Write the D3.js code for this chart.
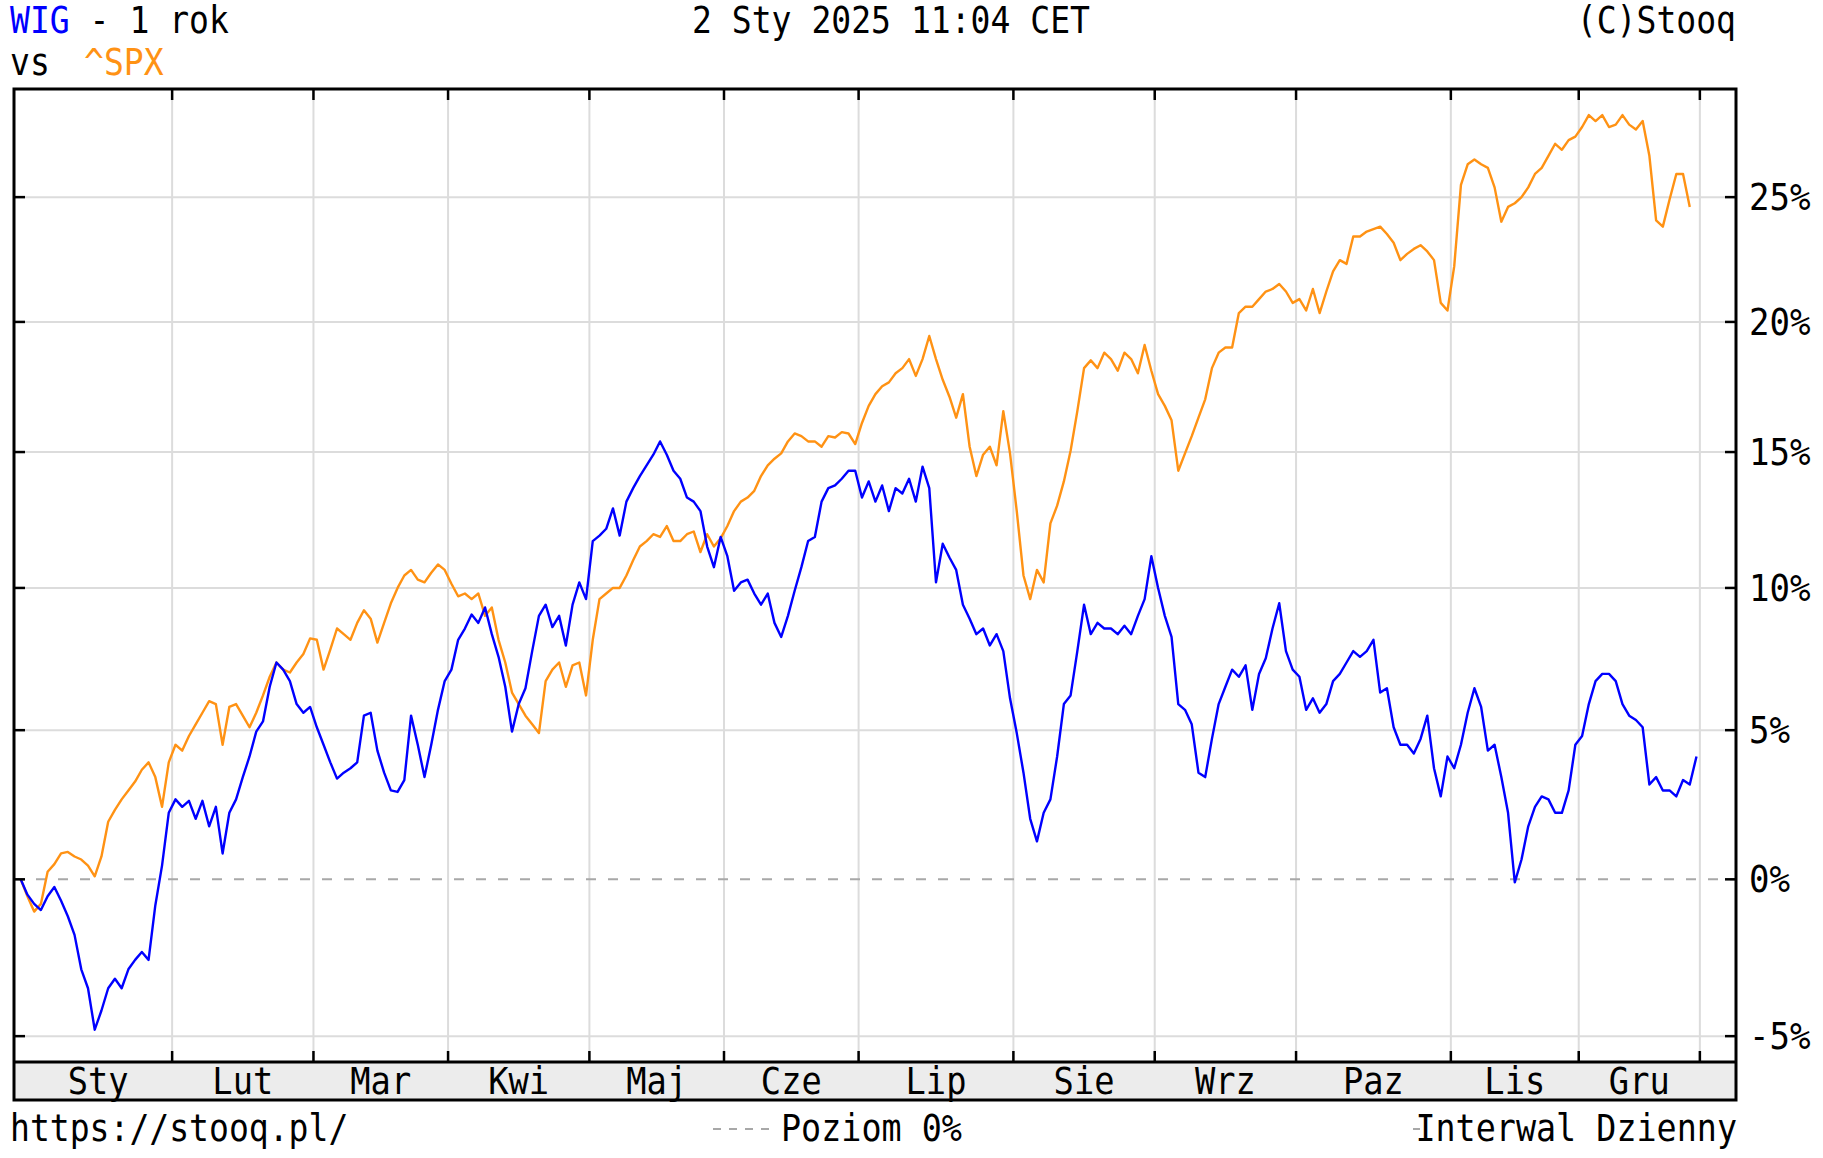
<!DOCTYPE html>
<html><head><meta charset="utf-8">
<script src="https://cdn.jsdelivr.net/npm/d3@7"></script>
<style>html,body{margin:0;padding:0;background:#fff;} svg{display:block;}</style>
</head><body>
<script>
// ---- DATA (percent change vs. last close of 2023; index 0 = base day) ----
const wigValues = [
  // Sty
  0, -0.5, -0.8, -1.0, -0.55, -0.25, -0.7, -1.2, -1.8, -2.9, -3.5, -4.8, -4.2, -3.5, -3.2, -3.5, -2.9, -2.6, -2.35, -2.6, -0.85, 0.45,
  // Lut
  2.2, 2.65, 2.4, 2.6, 2.0, 2.6, 1.75, 2.4, 0.85, 2.2, 2.65, 3.4, 4.1, 4.95, 5.3, 6.5, 7.35, 7.1, 6.7, 5.9, 5.6,
  // Mar
  5.8, 5.1, 4.5, 3.9, 3.35, 3.55, 3.7, 3.9, 5.5, 5.6, 4.3, 3.55, 2.95, 2.9, 3.3, 5.5, 4.5, 3.4, 4.5, 5.7,
  // Kwi
  6.7, 7.1, 8.15, 8.55, 9.05, 8.75, 9.3, 8.35, 7.55, 6.5, 4.95, 5.9, 6.45, 7.75, 9.0, 9.4, 8.6, 9.0, 7.95, 9.4, 10.2,
  // Maj
  9.6, 11.7, 11.9, 12.15, 12.9, 11.9, 13.15, 13.65, 14.1, 14.5, 14.9, 15.4, 14.9, 14.3, 14.0, 13.3, 13.15, 12.8, 11.5, 10.75,
  // Cze
  11.85, 11.15, 9.9, 10.2, 10.3, 9.8, 9.4, 9.8, 8.75, 8.25, 9.0, 9.9, 10.75, 11.7, 11.85, 13.15, 13.65, 13.75, 14.0, 14.3,
  // Lip
  14.3, 13.3, 13.9, 13.15, 13.75, 12.8, 13.65, 13.45, 14.0, 13.15, 14.45, 13.65, 10.2, 11.6, 11.1, 10.65, 9.4, 8.9, 8.35, 8.55, 7.95, 8.35, 7.75,
  // Sie
  6.1, 4.9, 3.55, 2.0, 1.25, 2.2, 2.65, 4.1, 5.9, 6.2, 7.75, 9.4, 8.35, 8.75, 8.55, 8.55, 8.35, 8.65, 8.35, 9.0, 9.6,
  // Wrz
  11.15, 10.0, 9.0, 8.25, 5.9, 5.7, 5.2, 3.55, 3.4, 4.7, 5.9, 6.5, 7.1, 6.85, 7.25, 5.7, 6.95, 7.5, 8.55, 9.45, 7.75,
  // Paz
  7.1, 6.85, 5.7, 6.1, 5.6, 5.9, 6.7, 6.95, 7.35, 7.75, 7.55, 7.75, 8.15, 6.3, 6.45, 5.1, 4.5, 4.5, 4.2, 4.7, 5.5, 3.7, 2.75,
  // Lis
  4.1, 3.7, 4.5, 5.6, 6.45, 5.8, 4.3, 4.5, 3.4, 2.2, -0.1, 0.65, 1.75, 2.4, 2.75, 2.65, 2.2, 2.2, 2.95,
  // Gru
  4.5, 4.8, 5.9, 6.7, 6.95, 6.95, 6.7, 5.9, 5.5, 5.35, 5.1, 3.15, 3.4, 2.95, 2.95, 2.75, 3.3, 3.15,
  // Sty 2025
  4.1
];
const spxValues = [
  // Sty
  0, -0.55, -1.05, -0.8, 0.25, 0.5, 0.85, 0.9, 0.75, 0.65, 0.45, 0.1, 0.75, 1.9, 2.3, 2.65, 2.95, 3.25, 3.65, 3.9, 3.4, 2.4,
  // Lut
  3.9, 4.5, 4.3, 4.8, 5.2, 5.6, 6.0, 5.9, 4.5, 5.8, 5.9, 5.5, 5.1, 5.6, 6.2, 6.85, 7.35, 7.1, 7.0, 7.35, 7.65,
  // Mar
  8.2, 8.15, 7.1, 7.8, 8.55, 8.35, 8.15, 8.75, 9.2, 8.9, 8.05, 8.75, 9.45, 10.0, 10.45, 10.65, 10.3, 10.2, 10.55, 10.85,
  // Kwi
  10.65, 10.15, 9.7, 9.8, 9.6, 9.8, 9.0, 9.3, 8.15, 7.35, 6.3, 5.9, 5.5, 5.2, 4.9, 6.7, 7.1, 7.35, 6.5, 7.25, 7.35,
  // Maj
  6.2, 8.15, 9.6, 9.8, 10.0, 10.0, 10.45, 11.0, 11.5, 11.7, 11.95, 11.85, 12.25, 11.7, 11.7, 11.95, 12.05, 11.3, 11.95, 11.5,
  // Cze
  11.8, 12.25, 12.8, 13.15, 13.3, 13.55, 14.1, 14.5, 14.75, 14.95, 15.4, 15.7, 15.6, 15.4, 15.4, 15.2, 15.6, 15.55, 15.75, 15.7,
  // Lip
  15.3, 16.1, 16.75, 17.2, 17.5, 17.65, 18.0, 18.2, 18.55, 17.9, 18.55, 19.45, 18.55, 17.75, 17.1, 16.3, 17.2, 15.2, 14.1, 14.9, 15.2, 14.5, 16.55,
  // Sie
  14.95, 12.8, 10.45, 9.6, 10.65, 10.2, 12.35, 13.0, 13.9, 15.05, 16.55, 18.2, 18.5, 18.2, 18.8, 18.55, 18.1, 18.8, 18.55, 18.0, 19.1,
  // Wrz
  18.1, 17.2, 16.75, 16.2, 14.3, 14.95, 15.6, 16.3, 17.0, 18.2, 18.8, 19.0, 19.0, 20.35, 20.6, 20.6, 20.9, 21.2, 21.3, 21.5, 21.2,
  // Paz
  20.75, 20.9, 20.45, 21.3, 20.35, 21.2, 22.0, 22.45, 22.3, 23.4, 23.4, 23.6, 23.7, 23.8, 23.5, 23.15, 22.45, 22.7, 22.9, 23.05, 22.8, 22.45, 20.75,
  // Lis
  20.45, 22.2, 25.5, 26.35, 26.55, 26.35, 26.2, 25.4, 24.0, 24.6, 24.75, 25.0, 25.4, 25.95, 26.2, 26.7, 27.2, 26.95, 27.35,
  // Gru
  27.5, 27.9, 28.4, 28.15, 28.4, 27.9, 28.0, 28.4, 28.0, 27.8, 28.15, 26.7, 24.05, 23.8, 24.9, 25.95, 25.95, 24.6
];
const monthLabels = ["Sty","Lut","Mar","Kwi","Maj","Cze","Lip","Sie","Wrz","Paz","Lis","Gru"];
// index of first trading day of each month (index 0 = base day before Jan 2)
const monthStart = [1, 23, 44, 64, 85, 105, 125, 148, 169, 190, 213, 232, 250];
const yTicks = [-5, 0, 5, 10, 15, 20, 25];
const yTickLabels = ["-5%", "0%", "5%", "10%", "15%", "20%", "25%"];

// ---- LAYOUT ----
const W = 1823, H = 1158;
const L = 14, R = 1736, T = 89, B = 1062, BB = 1100;
const FONT = "DejaVu Sans Mono";
const BLUE = "#0000ff", ORANGE = "#ff9214";

const svg = d3.select("body").append("svg").attr("width", W).attr("height", H);
svg.append("rect").attr("width", W).attr("height", H).attr("fill", "#fff");

const x = d3.scaleLinear().domain([0, 249]).range([20.7, 1696.5]);
const y = d3.scaleLog().domain([0.942, 1.295]).range([B, T]);
const yv = p => y(1 + p / 100);

function txt(px, py, s, o) {
  o = o || {};
  const t = svg.append("text").attr("x", px).attr("y", py).text(s)
    .attr("font-family", FONT).attr("font-size", o.size || 37)
    .attr("fill", o.fill || "#000")
    .attr("text-anchor", o.anchor || "start");
  const pitch = o.pitch || 19.9;
  t.attr("textLength", s.length * pitch).attr("lengthAdjust", "spacingAndGlyphs");
  return t;
}

// axis band
svg.append("rect").attr("x", L).attr("y", B).attr("width", R - L).attr("height", BB - B).attr("fill", "#ececec");

// grid
const gridX = monthStart.slice(1).map(i => x(i - 0.5));
svg.append("g").selectAll("line").data(gridX).join("line")
  .attr("x1", d => d).attr("x2", d => d).attr("y1", T).attr("y2", B)
  .attr("stroke", "#dcdcdc").attr("stroke-width", 2);
svg.append("g").selectAll("line").data(yTicks.filter(t => t !== 0)).join("line")
  .attr("x1", L).attr("x2", R).attr("y1", d => yv(d)).attr("y2", d => yv(d))
  .attr("stroke", "#dcdcdc").attr("stroke-width", 2);
// zero level
svg.append("line").attr("x1", L).attr("x2", R).attr("y1", yv(0)).attr("y2", yv(0))
  .attr("stroke", "#a8a8a8").attr("stroke-width", 2).attr("stroke-dasharray", "10,12");

// series
const line = d3.line().x((d, i) => x(i)).y(d => yv(d));
svg.append("path").datum(spxValues).attr("d", line).attr("fill", "none")
  .attr("stroke", ORANGE).attr("stroke-width", 2.4).attr("stroke-linejoin", "round");
svg.append("path").datum(wigValues).attr("d", line).attr("fill", "none")
  .attr("stroke", BLUE).attr("stroke-width", 2.4).attr("stroke-linejoin", "round");

// frame
svg.append("rect").attr("x", L).attr("y", T).attr("width", R - L).attr("height", BB - T)
  .attr("fill", "none").attr("stroke", "#000").attr("stroke-width", 3);
svg.append("line").attr("x1", L).attr("x2", R).attr("y1", B).attr("y2", B)
  .attr("stroke", "#000").attr("stroke-width", 3);

// ticks
const tk = svg.append("g").attr("stroke", "#000").attr("stroke-width", 2.5);
gridX.forEach(gx => {
  tk.append("line").attr("x1", gx).attr("x2", gx).attr("y1", T).attr("y2", T + 11);
  tk.append("line").attr("x1", gx).attr("x2", gx).attr("y1", B - 11).attr("y2", B);
});
yTicks.forEach(t => {
  tk.append("line").attr("x1", R - 11).attr("x2", R).attr("y1", yv(t)).attr("y2", yv(t));
  tk.append("line").attr("x1", L).attr("x2", L + 11).attr("y1", yv(t)).attr("y2", yv(t));
});

// y labels
yTicks.forEach((t, k) => txt(1749, yv(t) + 13, yTickLabels[k], {pitch: 20.5}));

// month labels
monthLabels.forEach((m, k) => {
  const cx = x((monthStart[k] + monthStart[k + 1]) / 2 - 0.5);
  txt(cx, 1094, m, {anchor: "middle", pitch: 20.3});
});

// header
txt(10, 33, "WIG", {fill: BLUE});
txt(10 + 4 * 19.9, 33, "- 1 rok");
txt(10, 75, "vs");
txt(84, 75, "^SPX", {fill: ORANGE});
txt(692, 33, "2 Sty 2025 11:04 CET");
txt(1736, 33, "(C)Stooq", {anchor: "end"});

// footer
txt(10, 1141, "https://stooq.pl/");
svg.append("line").attr("x1", 713).attr("x2", 775).attr("y1", 1129).attr("y2", 1129)
  .attr("stroke", "#a8a8a8").attr("stroke-width", 2).attr("stroke-dasharray", "8,8");
txt(781, 1141, "Poziom 0%", {pitch: 20.1});
svg.append("line").attr("x1", 1413).attr("x2", 1420).attr("y1", 1129).attr("y2", 1129)
  .attr("stroke", "#a8a8a8").attr("stroke-width", 2);
txt(1737, 1141, "Interwal Dzienny", {anchor: "end", pitch: 20.1});
</script>
</body></html>
